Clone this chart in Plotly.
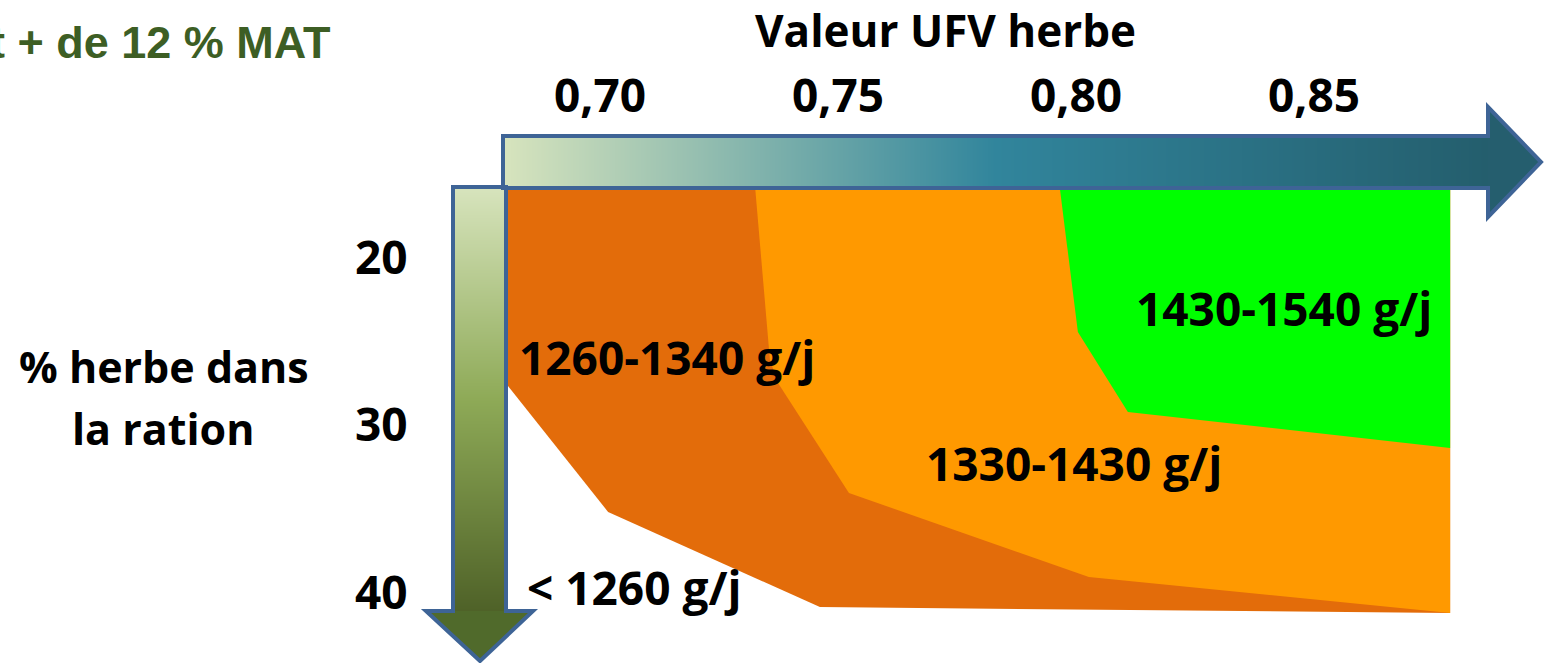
import numpy as np
import plotly.graph_objects as go

# ---- axis values ---------------------------------------------------------
ufv_ticks = [0.70, 0.75, 0.80, 0.85]
ufv_tick_text = ["0,70", "0,75", "0,80", "0,85"]
herbe_ticks = [20, 30, 40]
herbe_tick_text = ["20", "30", "40"]

# ---- growth zones (UFV herbe, % herbe dans la ration) --------------------
zone_low_ufv = [0.6805, 0.8786, 0.8786, 0.7462, 0.7017, 0.6805]
zone_low_herbe = [15.97, 15.97, 41.34, 40.99, 35.31, 27.73]

zone_mid_ufv = [0.7326, 0.8786, 0.8786, 0.8027, 0.7523, 0.7374, 0.7357]
zone_mid_herbe = [15.97, 15.97, 41.34, 39.19, 34.18, 27.61, 26.24]

zone_high_ufv = [0.7966, 0.8786, 0.8786, 0.8109, 0.8004]
zone_high_herbe = [15.97, 15.97, 31.49, 29.34, 24.57]

zone_labels = ["1260-1340 g/j", "1330-1430 g/j", "1430-1540 g/j", "< 1260 g/j"]
zone_label_ufv = [0.6825, 0.7681, 0.8122, 0.6842]
zone_label_herbe = [26.06, 32.39, 23.13, 39.79]

# ---- layout geometry -----------------------------------------------------
W, H = 1557, 663
X0_PX, PX_PER_UFV = 600.0, 4760.0      # 0,70 sits at X0_PX
Y0_PX, PX_PER_PCT = 255.5, 16.75       # 20 % sits at Y0_PX
x_range = [0.70 - X0_PX / PX_PER_UFV, 0.70 + (W - X0_PX) / PX_PER_UFV]
y_range = [20 + (H - Y0_PX) / PX_PER_PCT, 20 - Y0_PX / PX_PER_PCT]

FONT = "Open Sans"
FS = 46
OUTLINE = "#3e6496"

fig = go.Figure()

# zones
for xs, ys, col in [
    (zone_low_ufv, zone_low_herbe, "#e36c0a"),
    (zone_mid_ufv, zone_mid_herbe, "#ff9900"),
    (zone_high_ufv, zone_high_herbe, "#00ff00"),
]:
    fig.add_trace(go.Scatter(
        x=xs + xs[:1], y=ys + ys[:1], mode="lines", fill="toself",
        fillcolor=col, line=dict(width=0, color=col), hoverinfo="skip",
        xaxis="x", yaxis="y"))

# gradient body of the horizontal arrow (screen-pixel overlay axes)
hx = np.arange(503, 1489)
fig.add_trace(go.Heatmap(
    x=hx, y=[136, 188], z=[np.linspace(0, 1, len(hx) - 1)],
    colorscale=[[0, "#d7e4bd"], [0.5, "#31859c"], [1, "#245e6d"]],
    showscale=False, hoverinfo="skip", xaxis="x2", yaxis="y2"))

# gradient body of the vertical arrow
vy = np.arange(187, 612)
fig.add_trace(go.Heatmap(
    x=[453, 506], y=vy, z=[[v] for v in np.linspace(0, 1, len(vy) - 1)],
    colorscale=[[0, "#d7e4bd"], [0.5, "#8eaa57"], [1, "#4f6228"]],
    showscale=False, hoverinfo="skip", xaxis="x2", yaxis="y2"))

shapes = [
    # arrow heads
    dict(type="path", path="M 1488,107 L 1541,162 L 1488,217 Z",
         fillcolor="#255e6e", line=dict(width=0), xref="x2", yref="y2"),
    dict(type="path", path="M 426,611 L 533,611 L 480,661 Z",
         fillcolor="#506a2b", line=dict(width=0), xref="x2", yref="y2"),
    # outlines
    dict(type="path",
         path="M 503,136 L 1488,136 L 1488,107 L 1541,162 L 1488,217 L 1488,188 L 503,188 Z",
         line=dict(color=OUTLINE, width=4), xref="x2", yref="y2"),
    dict(type="path",
         path="M 453,187 L 506,187 L 506,611 L 533,611 L 480,661 L 426,611 L 453,611 Z",
         line=dict(color=OUTLINE, width=4), xref="x2", yref="y2"),
]

ann = []


def txt(text, x, y, xref, yref, xanchor="center", size=FS, color="black", family=FONT):
    ann.append(dict(text=f"<b>{text}</b>", x=x, y=y, xref=xref, yref=yref,
                    xanchor=xanchor, yanchor="middle", showarrow=False,
                    font=dict(family=family, size=size, color=color)))


# axis tick labels
for v, t in zip(ufv_ticks, ufv_tick_text):
    txt(t, v, 94, "x", "y2")
for v, t in zip(herbe_ticks, herbe_tick_text):
    txt(t, 410, v, "x2", "y", xanchor="right")

# axis titles
txt("Valeur UFV herbe", 945, 30, "x2", "y2", size=44)
txt("% herbe dans", 164, 366, "x2", "y2", size=43)
txt("la ration", 163, 428, "x2", "y2", size=43)

# zone labels
for t, xv, yv in zip(zone_labels, zone_label_ufv, zone_label_herbe):
    txt(t, xv, yv, "x", "y", xanchor="left")

# heading
txt("t + de 12 % MAT", 333, 42, "x2", "y2", xanchor="right", size=45,
    color="#3d5e24", family="Liberation Sans")

fig.update_layout(
    width=W, height=H, margin=dict(l=0, r=0, t=0, b=0),
    paper_bgcolor="white", plot_bgcolor="white", showlegend=False,
    xaxis=dict(range=x_range, visible=False, domain=[0, 1]),
    yaxis=dict(range=y_range, visible=False, domain=[0, 1]),
    xaxis2=dict(range=[0, W], visible=False, overlaying="x", anchor="y2"),
    yaxis2=dict(range=[H, 0], visible=False, overlaying="y", anchor="x2"),
    shapes=shapes, annotations=ann,
)

fig.write_html("out.html", config={"displayModeBar": False})
